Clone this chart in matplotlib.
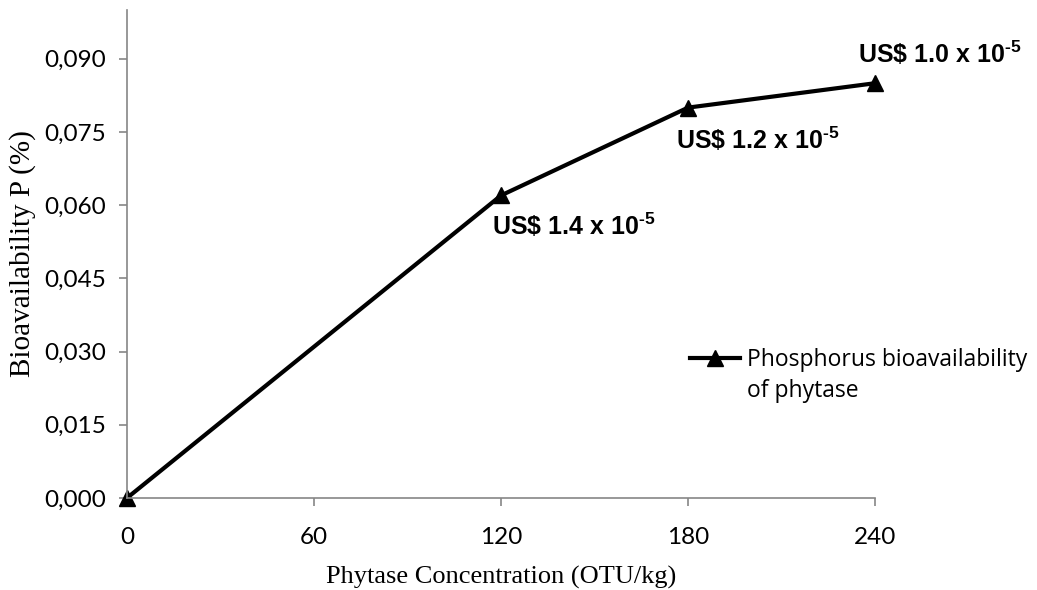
import matplotlib
matplotlib.use('Agg')
import matplotlib.pyplot as plt
from matplotlib.lines import Line2D
from matplotlib.ticker import FuncFormatter

# dados
concentracao = [0, 120, 180, 240]
biodisponibilidade = [0.000, 0.062, 0.080, 0.085]
custos = [None, 'US\\$ 1.4 x 10$^{\\text{-}5}$', 'US\\$ 1.2 x 10$^{\\text{-}5}$', 'US\\$ 1.0 x 10$^{\\text{-}5}$']
offsets = [None, (-6.5, -22), (-9, -23), (-12, 21)]
xticks = [0, 60, 120, 180, 240]
yticks = [0.000, 0.015, 0.030, 0.045, 0.060, 0.075, 0.090]

plt.rcParams['mathtext.fontset'] = 'custom'
plt.rcParams['mathtext.rm'] = 'Liberation Sans:bold'
plt.rcParams['mathtext.default'] = 'rm'

fig = plt.figure(figsize=(10.37, 5.9), dpi=100)
ax = fig.add_axes([0.1225, 0.156, 0.7213, 0.827])

linha, = ax.plot(concentracao, biodisponibilidade, color='black', linewidth=3,
                 marker='^', markersize=11, clip_on=False)

for x, y, txt, off in zip(concentracao, biodisponibilidade, custos, offsets):
    if txt is None:
        continue
    ax.annotate(txt, xy=(x, y), xytext=off, textcoords='offset points',
                ha='left', va='center', fontsize=18, fontweight='bold',
                family='Liberation Sans')

ax.set_xlim(0, 240)
ax.set_ylim(0, 0.1)
ax.set_xticks(xticks)
ax.set_yticks(yticks)
ax.yaxis.set_major_formatter(FuncFormatter(lambda v, p: f'{v:.3f}'.replace('.', ',')))

for s in ['top', 'right']:
    ax.spines[s].set_visible(False)
for s in ['left', 'bottom']:
    ax.spines[s].set_color('#868686')
    ax.spines[s].set_linewidth(1.2)

ax.tick_params(axis='both', direction='out', length=6, color='#868686', width=1.2)
ax.tick_params(axis='x', pad=15)
ax.tick_params(axis='y', pad=9)
for lab in ax.get_xticklabels() + ax.get_yticklabels():
    lab.set_family('Lato')
    lab.set_fontsize(17.5)

ax.set_xlabel('Phytase Concentration (OTU/kg)', family='Liberation Serif', fontsize=19, labelpad=13)
ax.set_ylabel('Bioavailability P (%)', family='Liberation Serif', fontsize=21, labelpad=6)

# legenda: marcador alinhado com a primeira linha do texto (como no Excel)
vazio = Line2D([], [], color='none')
leg = ax.legend([linha, vazio], ['Phosphorus bioavailability', 'of phytase'],
                loc='upper left', bbox_to_anchor=(0.665, 0.41), bbox_transform=fig.transFigure,
                frameon=False, prop={'family': 'Open Sans', 'size': 16.5},
                handlelength=2.2, handletextpad=0.3, borderpad=0, borderaxespad=0,
                labelspacing=0.3)

plt.savefig('out.png', dpi=100)
